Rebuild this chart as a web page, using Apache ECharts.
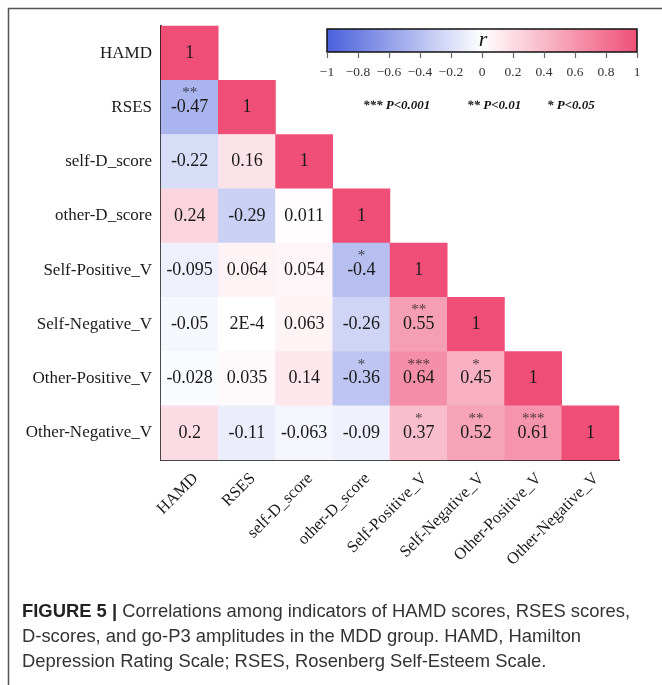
<!DOCTYPE html>
<html><head><meta charset="utf-8">
<script src="https://cdn.jsdelivr.net/npm/echarts@6/dist/echarts.min.js"></script>
<style>html,body{margin:0;padding:0;background:#fff}#c{width:662px;height:685px}</style>
</head><body><div id="c"></div>
<script>
var variables = ['HAMD','RSES','self-D_score','other-D_score','Self-Positive_V','Self-Negative_V','Other-Positive_V','Other-Negative_V'];
// lower triangle correlations by row (row i has i+1 values, columns 0..i)
var rowHAMD = [1];
var rowRSES = [-0.47, 1];
var rowSelfD = [-0.22, 0.16, 1];
var rowOtherD = [0.24, -0.29, 0.011, 1];
var rowSelfPos = [-0.095, 0.064, 0.054, -0.4, 1];
var rowSelfNeg = [-0.05, 0.0002, 0.063, -0.26, 0.55, 1];
var rowOtherPos = [-0.028, 0.035, 0.14, -0.36, 0.64, 0.45, 1];
var rowOtherNeg = [0.2, -0.11, -0.063, -0.09, 0.37, 0.52, 0.61, 1];
// significance stars by row
var starHAMD = [''];
var starRSES = ['**', ''];
var starSelfD = ['', '', ''];
var starOtherD = ['', '', '', ''];
var starSelfPos = ['', '', '', '*', ''];
var starSelfNeg = ['', '', '', '', '**', ''];
var starOtherPos = ['', '', '', '*', '***', '*', ''];
var starOtherNeg = ['', '', '', '', '*', '**', '***', ''];
var colorScale = ['#4a5fdb', '#ffffff', '#ef4f77'];

var rows = [rowHAMD,rowRSES,rowSelfD,rowOtherD,rowSelfPos,rowSelfNeg,rowOtherPos,rowOtherNeg];
var stars = [starHAMD,starRSES,starSelfD,starOtherD,starSelfPos,starSelfNeg,starOtherPos,starOtherNeg];
var heat = [], starData = [];
rows.forEach(function(r, i){ r.forEach(function(v, j){ heat.push([j, i, v]); if (stars[i][j]) starData.push([j, i, stars[i][j]]); }); });

function fmt(v){
  if (v !== 0 && Math.abs(v) < 0.001) return v.toExponential(0).toUpperCase();
  return String(v);
}
var serif = '"Liberation Serif","Times New Roman",serif';
var sans = '"Liberation Sans",Arial,sans-serif';
var chart = echarts.init(document.getElementById('c'), null, {renderer:'canvas'});
chart.setOption({
  backgroundColor:'#fff',
  animation:false,
  grid:[
    {left:161, top:26, width:458, height:434, show:false},
    {left:327, top:29, width:310, height:23, show:true, borderColor:'#111', borderWidth:1.5,
     backgroundColor:{type:'linear',x:0,y:0,x2:1,y2:0,colorStops:[{offset:0,color:colorScale[0]},{offset:0.5,color:colorScale[1]},{offset:1,color:colorScale[2]}]}}
  ],
  xAxis:[
    {type:'category', gridIndex:0, data:variables, axisLine:{lineStyle:{color:'#111',width:2}}, axisTick:{show:false}, splitLine:{show:false},
     axisLabel:{rotate:45, fontFamily:serif, fontSize:16.5, color:'#1a1a1a', margin:10, interval:0, verticalAlign:'top'}},
    {type:'value', gridIndex:1, min:-1, max:1, interval:0.2, axisLine:{show:false}, splitLine:{show:false},
     axisTick:{show:true, length:6, lineStyle:{color:'#666',width:1.2}},
     axisLabel:{fontFamily:serif, fontSize:13.5, color:'#333', margin:13, formatter:function(v){ return fmt(Math.round(v*10)/10).replace('-','\u2212'); }}}
  ],
  yAxis:[
    {type:'category', gridIndex:0, data:variables, inverse:true, axisLine:{lineStyle:{color:'#111',width:2}}, axisTick:{show:false}, splitLine:{show:false},
     axisLabel:{fontFamily:serif, fontSize:17, color:'#1a1a1a', margin:9}},
    {type:'value', gridIndex:1, show:false, min:0, max:1}
  ],
  visualMap:{show:false, min:-1, max:1, seriesIndex:0, inRange:{color:colorScale}},
  series:[
    {type:'heatmap', xAxisIndex:0, yAxisIndex:0, data:heat, emphasis:{disabled:true},
     label:{show:true, fontFamily:serif, fontSize:18, color:'#1a1a1a', formatter:function(p){ return fmt(p.value[2]); }}},
    {type:'scatter', xAxisIndex:0, yAxisIndex:0, data:starData, symbolSize:0, silent:true, z:5,
     label:{show:true, position:'inside', offset:[0,-14], fontFamily:serif, fontSize:15, color:'#1a1a1a', formatter:function(p){ return p.value[2]; }}},
    {type:'scatter', xAxisIndex:1, yAxisIndex:1, data:[], silent:true}
  ],
  graphic:[
    {type:'rect', shape:{x:8.5, y:8.5, width:700, height:700}, style:{fill:'none', stroke:'#555', lineWidth:1.5}, silent:true, z:-1},
    {type:'text', x:483, y:40, style:{text:'r', font:'italic 22px '+serif, fill:'#111', textAlign:'center', textVerticalAlign:'middle'}},
    {type:'text', x:363, y:106, style:{text:'*** P<0.001', font:'italic bold 13px '+serif, fill:'#111', textVerticalAlign:'middle'}},
    {type:'text', x:467, y:106, style:{text:'** P<0.01', font:'italic bold 13px '+serif, fill:'#111', textVerticalAlign:'middle'}},
    {type:'text', x:547, y:106, style:{text:'* P<0.05', font:'italic bold 13px '+serif, fill:'#111', textVerticalAlign:'middle'}},
    {type:'text', x:22, y:599, style:{
      text:'{b|FIGURE 5 |} Correlations among indicators of HAMD scores, RSES scores,\nD-scores, and go-P3 amplitudes in the MDD group. HAMD, Hamilton\nDepression Rating Scale; RSES, Rosenberg Self-Esteem Scale.',
      font:'18.4px '+sans, fill:'#333', lineHeight:25,
      rich:{b:{fontWeight:'bold', fontSize:18.4, fontFamily:sans, fill:'#222', lineHeight:25}}}}
  ]
});
</script></body></html>
